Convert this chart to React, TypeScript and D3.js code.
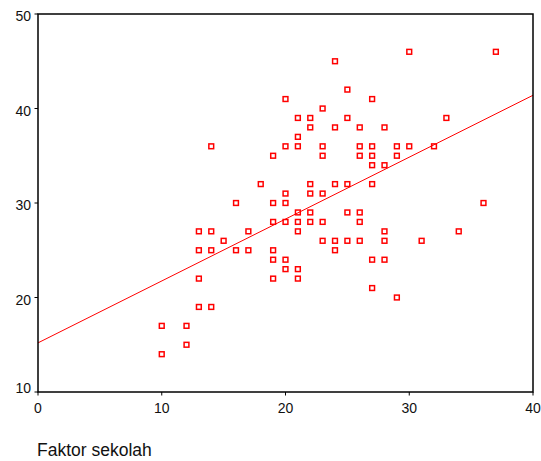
import * as d3 from 'd3';
import { useEffect, useRef } from 'react';

// Faktor sekolah (x) vs outcome score (y)
const faktorSekolah = [
  10, 10, 12, 12, 13, 14, 13, 13, 14, 13, 14, 14, 15, 16, 16, 17, 17, 18,
  19, 19, 19, 19, 19, 19,
  20, 20, 20, 20, 20, 20, 20,
  21, 21, 21, 21, 21, 21, 21, 21,
  22, 22, 22, 22, 22, 22,
  23, 23, 23, 23, 23, 23,
  24, 24, 24, 24, 24,
  25, 25, 25, 25, 25,
  26, 26, 26, 26, 26, 26,
  27, 27, 27, 27, 27, 27, 27,
  28, 28, 28, 28, 28,
  29, 29, 29,
  30, 30, 31, 32, 33, 34, 36, 37,
];
const skor = [
  17, 14, 17, 15, 19, 19, 22, 27, 27, 25, 25, 36, 26, 30, 25, 27, 25, 32,
  35, 30, 28, 25, 24, 22,
  41, 36, 31, 30, 28, 24, 23,
  39, 37, 36, 29, 28, 27, 23, 22,
  39, 38, 32, 31, 29, 28,
  40, 36, 35, 31, 28, 26,
  45, 38, 32, 26, 25,
  42, 39, 32, 29, 26,
  38, 36, 35, 29, 28, 26,
  41, 36, 35, 34, 32, 24, 21,
  38, 34, 27, 26, 24,
  36, 35, 20,
  46, 36, 26, 36, 39, 27, 30, 46,
];

// fit line as drawn in the original output
const intercept = 15.2;
const slope = 0.655;

const xTicks = [0, 10, 20, 30, 40];
const yTicks = [10, 20, 30, 40, 50];

export default function App() {
  const ref = useRef<SVGSVGElement>(null);

  useEffect(() => {
    if (!ref.current) return;
    const svg = d3.select(ref.current);
    svg.selectAll('*').remove();

    const left = 38, right = 533, top = 14, bottom = 392;
    const font = '"Liberation Sans", Arial, sans-serif';

    const x = d3.scaleLinear().domain([0, 40]).range([left, right]);
    const y = d3.scaleLinear().domain([10, 50]).range([bottom, top]);

    // regression line
    const line = d3.line<number>()
      .x(d => x(d))
      .y(d => y(intercept + slope * d));
    svg.append('path')
      .datum([0, 40])
      .attr('d', line)
      .attr('fill', 'none')
      .attr('stroke', '#ff0000')
      .attr('stroke-width', 1);

    // points
    const pts = faktorSekolah.map((v, i) => [v, skor[i]]);
    svg.append('g')
      .selectAll('rect')
      .data(pts)
      .enter()
      .append('rect')
      .attr('x', d => x(d[0]) - 2.4)
      .attr('y', d => y(d[1]) - 2.4)
      .attr('width', 4.8)
      .attr('height', 4.8)
      .attr('fill', 'none')
      .attr('stroke', '#ff0000')
      .attr('stroke-width', 1.5);

    // frame
    svg.append('rect')
      .attr('x', left)
      .attr('y', top)
      .attr('width', right - left)
      .attr('height', bottom - top)
      .attr('fill', 'none')
      .attr('stroke', '#000')
      .attr('stroke-width', 1.5);

    // y axis
    const gy = svg.append('g');
    gy.selectAll('line')
      .data(yTicks).enter()
      .append('line')
      .attr('x1', left - 3.5).attr('x2', left)
      .attr('y1', d => y(d)).attr('y2', d => y(d))
      .attr('stroke', '#000').attr('stroke-width', 1);
    gy.selectAll('text')
      .data(yTicks).enter()
      .append('text')
      .attr('x', 31)
      .attr('y', d => Math.min(y(d) + 2, bottom - 4))
      .attr('dy', '0.36em')
      .attr('text-anchor', 'end')
      .attr('font-family', font)
      .attr('font-size', 14)
      .attr('fill', '#111')
      .text(d => d);

    // x axis
    const gx = svg.append('g');
    gx.selectAll('line')
      .data(xTicks).enter()
      .append('line')
      .attr('x1', d => x(d)).attr('x2', d => x(d))
      .attr('y1', bottom).attr('y2', bottom + 3.5)
      .attr('stroke', '#000').attr('stroke-width', 1);
    gx.selectAll('text')
      .data(xTicks).enter()
      .append('text')
      .attr('x', d => x(d))
      .attr('y', 413)
      .attr('text-anchor', 'middle')
      .attr('font-family', font)
      .attr('font-size', 14)
      .attr('fill', '#111')
      .text(d => d);

    svg.append('text')
      .attr('x', 37)
      .attr('y', 456)
      .attr('font-family', font)
      .attr('font-size', 17.5)
      .attr('fill', '#111')
      .text('Faktor sekolah');
  }, []);

  return (
    <svg
      ref={ref}
      width={541}
      height={461}
      style={{ position: 'absolute', left: 0, top: 0, background: '#fff' }}
    />
  );
}
